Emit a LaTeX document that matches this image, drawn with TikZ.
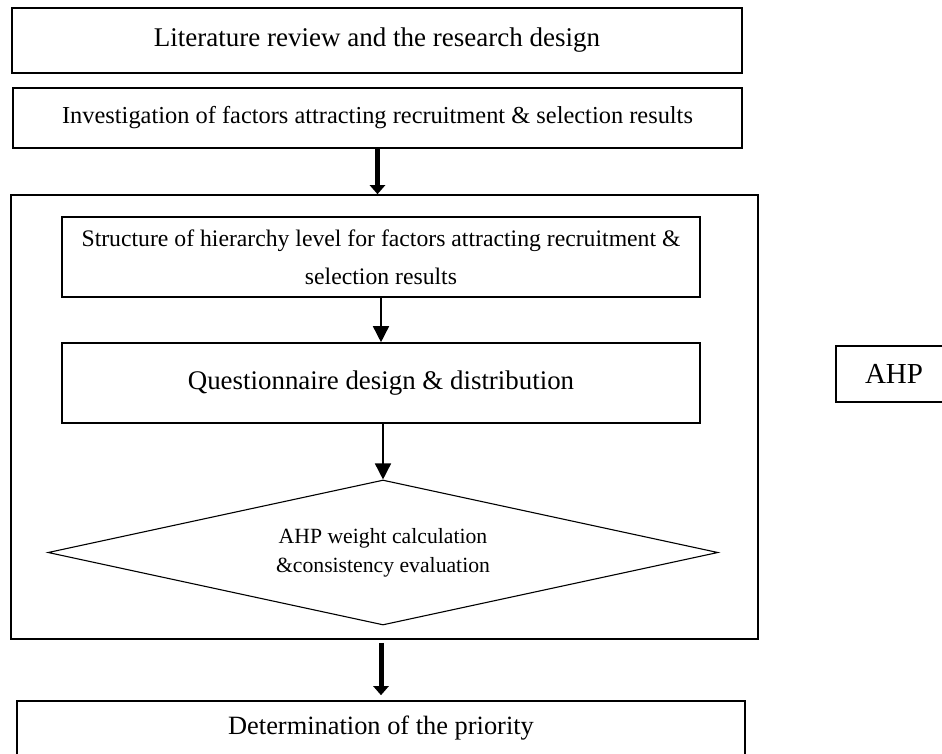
\documentclass[tikz,border=0pt]{standalone}
\usepackage{fontspec}
\setmainfont{Liberation Serif}
\usetikzlibrary{shapes.geometric,arrows.meta,positioning}

\begin{document}
\begin{tikzpicture}[x=1pt, y=-1pt, >={Triangle[width=16pt,length=16pt]}, every node/.style={align=center, inner sep=0pt},
    stage/.style={draw, line width=1.6pt},
    decision/.style={draw, diamond, aspect=4.6, line width=1.1pt},
    thinarrow/.style={->, line width=1.5pt},
    thickarrow/.style={-{Triangle[width=15pt,length=9pt]}, line width=5pt}]
    \useasboundingbox (0,0) rectangle (942,753);
    \clip (0,0) rectangle (942,753);

    \node[stage, minimum width=730pt, minimum height=65pt, font=\fontsize{27}{32}\selectfont] (LIT) at (377,40.5) {Literature review and the research design};
    \node[stage, minimum width=729pt, minimum height=60pt, font=\fontsize{24.4}{29}\selectfont] (INVEST) at (377.5,118) {Investigation of factors attracting recruitment \& selection results};
    \node[stage, minimum width=747pt, minimum height=444pt] (FRAME) at (384.5,417) {};
    \node[stage, minimum width=638pt, minimum height=80pt, font=\fontsize{23.7}{38}\selectfont] (HIER) at (381,257) {Structure of hierarchy level for factors attracting recruitment \&\\selection results};
    \node[stage, minimum width=638pt, minimum height=80pt, font=\fontsize{26.9}{32}\selectfont] (QUEST) at (381,383) {Questionnaire design \& distribution};
    \node[decision, minimum width=670pt, minimum height=145pt, font=\fontsize{21.7}{29}\selectfont] (CALC) at (383,552.5) {AHP weight calculation\\\&consistency evaluation};
    \node[stage, minimum width=728pt, minimum height=54pt, font=\fontsize{26.4}{32}\selectfont] (PRIO) at (381,728) {Determination of the priority};
    \node[stage, minimum width=116pt, minimum height=56pt, font=\fontsize{29}{34}\selectfont] (AHP) at (894,374) {AHP};

    \path (INVEST.south) edge[thickarrow] (INVEST.south |- FRAME.north)
          (HIER) edge[thinarrow] (QUEST)
          (QUEST.south -| CALC.north) edge[thinarrow] (CALC.north)
          (PRIO.north |- FRAME.south) edge[thickarrow, shorten <=3pt, shorten >=5pt] (PRIO.north);
\end{tikzpicture}
\end{document}
